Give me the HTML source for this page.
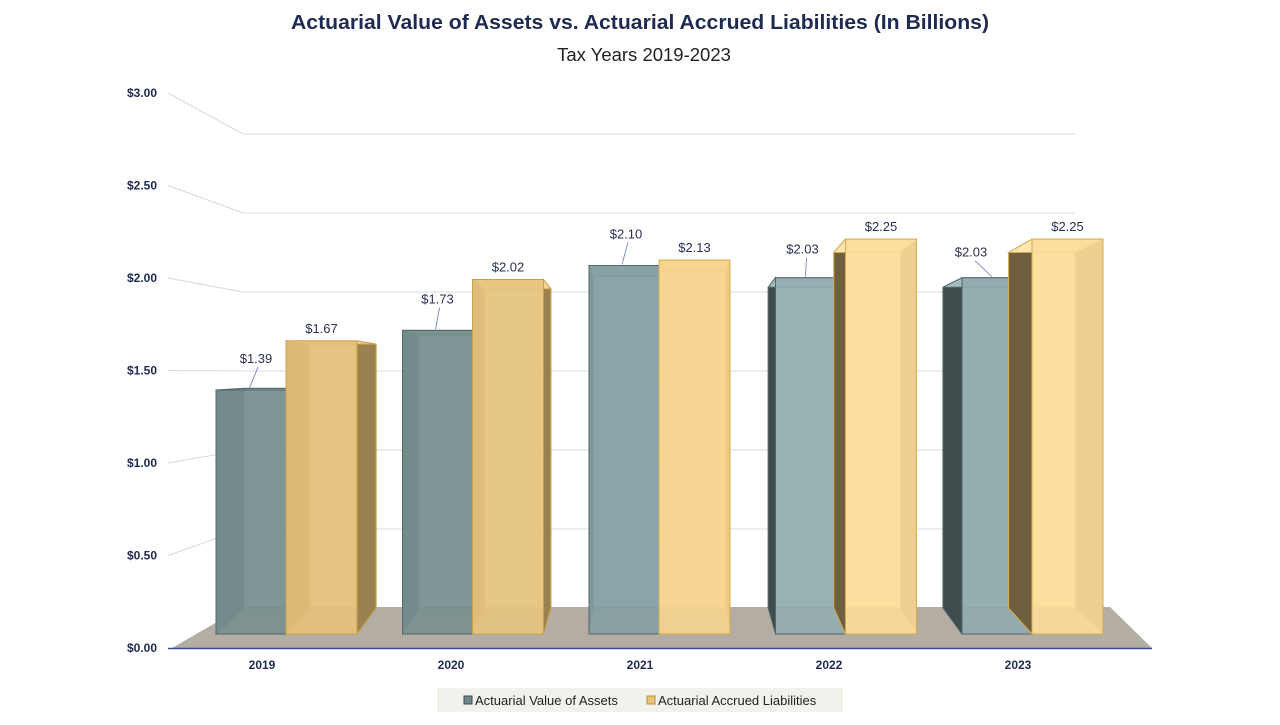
<!DOCTYPE html>
<html><head><meta charset="utf-8"><style>
body{margin:0;background:#fff;font-family:"Liberation Sans",sans-serif;}
</style></head><body>
<svg id="chart" width="1280" height="720" viewBox="0 0 1280 720" xmlns="http://www.w3.org/2000/svg">
<text x="640" y="29" text-anchor="middle" font-size="20.5" font-weight="bold" fill="#1f2a50" textLength="698" lengthAdjust="spacingAndGlyphs">Actuarial Value of Assets vs. Actuarial Accrued Liabilities (In Billions)</text>
<text x="644" y="61" text-anchor="middle" font-size="18.5" fill="#222">Tax Years 2019-2023</text>
<g id="grid"></g><g id="bars"></g><g id="labels"></g>
<g>
<rect x="437" y="688" width="406" height="24" fill="#f2f2ec"/>
<g><rect x="464" y="696" width="8" height="8" fill="#6f898b" stroke="#445"/><text x="475" y="705" font-size="13" fill="#222">Actuarial Value of Assets</text></g>
<g><rect x="647" y="696" width="8" height="8" fill="#e9c57e" stroke="#b8902e"/><text x="658" y="705" font-size="13" fill="#222">Actuarial Accrued Liabilities</text></g>
</g>
</svg>
<script>
const categories=["2019","2020","2021","2022","2023"];
const assets=[1.39,1.73,2.10,2.03,2.03];
const liabilities=[1.67,2.02,2.13,2.25,2.25];
const yTicks=[0,0.5,1,1.5,2,2.5,3];
const yTickLabels=["$0.00","$0.50","$1.00","$1.50","$2.00","$2.50","$3.00"];
const NS="http://www.w3.org/2000/svg";
function mk(tag,attrs,parent){const e=document.createElementNS(NS,tag);for(const k in attrs)e.setAttribute(k,attrs[k]);parent.appendChild(e);return e;}
function yAxisFront(v){return 648-185*v;}
function yAxisBack(v){return 608-158*v;}
function P(x,v,d){const yf=634-175.5*v,yb=608-158*v;return [x+(x-660)*(-0.063)*d,yf+(yb-yf)*d];}
function catX(i){return 216+i*186.5;}
const labelShift=[5,0,2,-8,-26];
const labelRise=[27,27,27,24,21];
const grid=document.getElementById('grid'),bars=document.getElementById('bars'),labels=document.getElementById('labels');
let fl=mk('polygon',{points:"172,648 1152,648 1110,607 243,607",fill:"#b3ada4"},grid);


yTicks.forEach((t,i)=>{
  if(t>0){const g=mk('polyline',{points:`168,${yAxisFront(t)} 243,${yAxisBack(t)} 1075,${yAxisBack(t)}`,fill:"none",stroke:"#d8d8e4","stroke-width":1},grid);
  
  }
  const l=mk('text',{x:157,y:yAxisFront(t)+4,"text-anchor":"end","font-size":12,"font-weight":"bold",fill:"#1f2a50"},grid);
  l.textContent=yTickLabels[i];
  
  
});
const ax=mk('line',{x1:168,y1:648.5,x2:1152,y2:648.5,stroke:"#3a4a9a","stroke-width":1.5},grid);


function pts(a){return a.map(p=>p.join(',')).join(' ');}
function bar(x,w,v,cols,name){
  const g=mk('g',{},bars);
  
  
  const fl=P(x,0,0),fr=P(x+w,0,0),tl=P(x,v,0),tr=P(x+w,v,0);
  const bl=P(x,0,1),br=P(x+w,0,1),btl=P(x,v,1),btr=P(x+w,v,1);
  mk('polygon',{points:pts([bl,br,btr,btl]),fill:cols[0],"fill-opacity":0.5,stroke:cols[3],"stroke-width":1},g);
  mk('polygon',{points:pts([fl,bl,btl,tl]),fill:cols[2],stroke:cols[3],"stroke-width":1},g);
  mk('polygon',{points:pts([fr,br,btr,tr]),fill:cols[2],stroke:cols[3],"stroke-width":1},g);
  mk('polygon',{points:pts([tl,tr,btr,btl]),fill:cols[1],stroke:cols[3],"stroke-width":1},g);
  mk('polygon',{points:pts([fl,fr,tr,tl]),fill:cols[0],"fill-opacity":0.9,stroke:cols[3],"stroke-width":1},g);
  return tl[1];
}
const tealCols=[["#78908f","#8aa2a3","#4a5b5c","#546769"],["#78908f","#8aa2a3","#4a5b5c","#546769"],["#84a0a2","#9ab3b4","#4a5b5c","#546769"],["#92adaf","#a5bdbe","#3f4c4d","#546769"],["#8fabad","#a5bdbe","#3f4c4d","#546769"]];
const goldCols=[["#e3c07a","#ecd08f","#9a8250","#c9a248"],["#e6c47e","#efd495","#9a8250","#c9a248"],["#f6d48e","#fbe0a6","#8a7448","#d4ad52"],["#fcdc9a","#ffe6b0","#6f5f40","#d4ad52"],["#fcdc9a","#ffe6b0","#6f5f40","#d4ad52"]];
categories.forEach((c,i)=>{
  const x=catX(i);
  const ty=bar(x,70,assets[i],tealCols[i],'bar-assets-'+c);
  const gy=bar(x+70,71,liabilities[i],goldCols[i],'bar-liabilities-'+c);
  const lx=x+35+labelShift[i], ly=ty-labelRise[i];
  const ln=mk('line',{x1:lx+(i>=3?4:2),y1:ly+4,x2:x+35+(i>=3?-5:-2),y2:ty-1,stroke:"#6a78b0","stroke-width":0.8},labels);
  
  
  const t1=mk('text',{x:lx,y:ly,"text-anchor":"middle","font-size":13,fill:"#2a3050"},labels);
  t1.textContent='$'+assets[i].toFixed(2);
  
  
  const t2=mk('text',{x:x+105.5,y:gy-8,"text-anchor":"middle","font-size":13,fill:"#2a3050"},labels);
  t2.textContent='$'+liabilities[i].toFixed(2);
  
  
  const xl=mk('text',{x:x+51+(i-2)*2.5,y:669,"text-anchor":"middle","font-size":12,"font-weight":"bold",fill:"#1f2a50"},labels);
  xl.textContent=c;
  
  
});
</script>
</body></html>
